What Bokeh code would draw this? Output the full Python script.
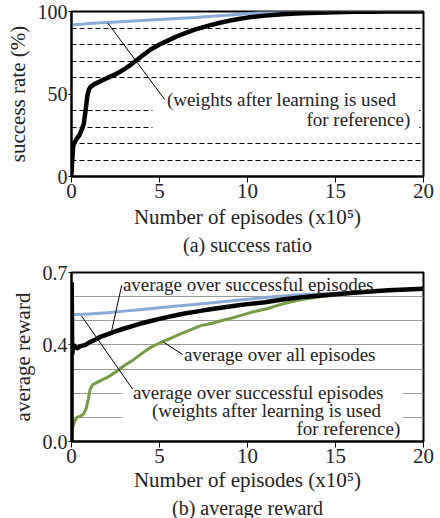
from bokeh.plotting import figure
from bokeh.layouts import column
from bokeh.models import FixedTicker, Label, PrintfTickFormatter
from bokeh.embed import file_html
from bokeh.resources import INLINE

# ---------------- data: (a) success ratio ----------------
succ_x = [0, 0.03, 0.1, 0.2, 0.3, 0.45, 0.6, 0.7, 0.8, 0.9, 1.0, 1.1, 1.3, 1.6, 2.0, 2.3,
          2.6, 3.0, 3.4, 3.7, 4.0, 4.5, 5.0, 5.5, 6.0, 6.5, 7.0, 7.5, 8.0, 8.5, 9.0, 9.5,
          10.0, 10.5, 11.0, 12.0, 13.0, 14.0, 15.0, 16.0, 17.0, 18.0, 19.0, 20.0]
succ_learn = [0, 8, 19, 21, 23, 25, 29, 32, 40, 49, 53, 54.5, 56, 57.5, 59.5, 61,
              62.5, 65, 68, 70.5, 73, 77, 80, 82.5, 85, 87, 89, 90.5, 92, 93.3, 94.5, 95.5,
              96.3, 97, 97.5, 98.3, 98.9, 99.3, 99.6, 99.8, 99.9, 100, 100, 100]
ref_x = [0, 0.5, 1, 2, 3, 4, 5, 6, 7, 8, 9, 10, 10.5, 11, 11.5, 12, 13, 14, 16, 18, 20]
succ_ref = [91.8, 92.2, 92.7, 93.4, 94, 94.6, 95.2, 95.8, 96.4, 97.1, 97.9, 98.7, 99.2, 99.6,
            99.8, 100, 100, 100, 100, 100, 100]

# ---------------- data: (b) average reward ----------------
rew_x = [0, 0.01, 0.04, 0.1, 0.3, 0.5, 0.8, 1.0, 1.3, 1.6, 2.0, 2.5, 3.0, 3.5, 4.0, 4.5, 5.0,
         5.5, 6.0, 6.5, 7.0, 7.5, 8.0, 8.5, 9.0, 9.5, 10, 11, 12, 13, 14, 15, 16, 17, 18, 19, 20]
rew_success = [0.0, 0.66, 0.36, 0.40, 0.385, 0.395, 0.40, 0.41, 0.42, 0.432, 0.443, 0.456, 0.468,
               0.479, 0.49, 0.499, 0.508, 0.516, 0.524, 0.531, 0.537, 0.543, 0.549, 0.554,
               0.559, 0.564, 0.569, 0.577, 0.588, 0.597, 0.604, 0.61, 0.616, 0.621, 0.626,
               0.63, 0.633]
all_x = [0, 0.05, 0.13, 0.3, 0.5, 0.7, 0.85, 0.95, 1.05, 1.2, 1.46, 1.8, 2.03, 2.3, 2.6, 3.0,
         3.55, 4.0, 4.5, 5.06, 5.4, 6.0, 6.4, 7.0, 7.35, 8.0, 8.5, 9.2, 10.2, 11.1, 12.0, 13.0,
         14.0, 15.0, 16.0, 17.0, 18.0, 19.0, 20.0]
rew_all = [0.0, 0.05, 0.075, 0.10, 0.105, 0.115, 0.14, 0.175, 0.215, 0.235, 0.245, 0.258, 0.265,
           0.278, 0.292, 0.315, 0.34, 0.365, 0.39, 0.41, 0.42, 0.44, 0.452, 0.47, 0.48,
           0.49, 0.50, 0.513, 0.535, 0.55, 0.57, 0.587, 0.598, 0.607, 0.614, 0.621, 0.626,
           0.63, 0.633]
rref_x = [0, 1, 2, 3, 4, 5, 6, 7, 8, 9, 10, 11, 12, 13, 14, 15, 16, 17, 18, 19, 20]
rew_ref = [0.525, 0.528, 0.533, 0.54, 0.547, 0.554, 0.561, 0.567, 0.575, 0.582, 0.589, 0.596,
           0.603, 0.608, 0.611, 0.613, 0.616, 0.62, 0.624, 0.628, 0.632]

x_ticks = [0, 5, 10, 15, 20]
succ_ticks = [0, 50, 100]
succ_grid = [10, 20, 30, 40, 60, 70, 80, 90]
rew_ticks = [0.0, 0.4, 0.7]
rew_grid = [0.1, 0.2, 0.3, 0.4, 0.5, 0.6]

FONT = "Liberation Serif"
BLUE = "#88abd5"
GREEN = "#779a45"


def style(p, ylabel, yticks, xlabel_standoff, ylabel_standoff):
    p.outline_line_color = "black"
    p.outline_line_width = 2
    p.xaxis.ticker = FixedTicker(ticks=x_ticks)
    p.yaxis.ticker = FixedTicker(ticks=yticks)
    p.xaxis.minor_tick_line_color = None
    p.yaxis.minor_tick_line_color = None
    for ax in (p.xaxis, p.yaxis):
        ax.axis_line_color = "black"
        ax.axis_line_width = 2
        ax.major_label_text_font = FONT
        ax.major_label_text_font_size = "21px"
        ax.major_label_text_color = "#222222"
        ax.axis_label_text_font = FONT
        ax.axis_label_text_font_size = "21px"
        ax.axis_label_text_font_style = "normal"
        ax.axis_label_text_color = "#222222"
        ax.major_tick_line_color = "black"
        ax.major_tick_in = 0
    p.yaxis.major_label_text_font_size = "20px"
    p.xaxis.major_tick_out = 6
    p.xaxis.major_label_standoff = 1
    p.xaxis.axis_label_standoff = xlabel_standoff
    p.yaxis.major_tick_out = 3
    p.yaxis.major_label_standoff = 1
    p.yaxis.axis_label_standoff = ylabel_standoff
    p.xaxis.axis_label = "Number of episodes (x10\u2075)"
    p.yaxis.axis_label = ylabel
    p.xgrid.grid_line_color = None
    p.title.text_font = FONT
    p.title.text_font_size = "20px"
    p.title.text_font_style = "normal"
    p.title.text_color = "#222222"
    p.title.align = "center"
    p.title.standoff = 0
    p.title.offset = 0


def label(p, x, y, text, align="left"):
    p.add_layout(Label(x=x, y=y, text=text, text_font=FONT, text_font_size="19px",
                       text_baseline="middle", text_align=align, text_color="#222222"))


# ---------------- figure (a) ----------------
p1 = figure(width=440, height=259, x_range=(0, 20), y_range=(0, 100),
            output_backend="svg", toolbar_location=None,
            title="(a) success ratio", title_location="below",
            min_border_left=71, min_border_right=17, min_border_top=11, min_border_bottom=83)
style(p1, "success rate (%)", succ_ticks, 4, 5)
p1.ygrid.ticker = FixedTicker(ticks=succ_grid)
p1.ygrid.grid_line_color = "black"
p1.ygrid.grid_line_dash = "5 3"
p1.ygrid.grid_line_width = 1

p1.quad(left=[4.6], right=[19.75], bottom=[25], top=[55.5], fill_color="white", line_color=None)
p1.line(ref_x, succ_ref, line_color=BLUE, line_width=3)
p1.line(succ_x, succ_learn, line_color="black", line_width=4.5)
p1.segment(x0=[2.07], y0=[92.9], x1=[5.3], y1=[46.6], line_color="black", line_width=1)
label(p1, 5.42, 46.4, "(weights after learning is used")
label(p1, 19.25, 34.6, "for reference)", align="right")

# ---------------- figure (b) ----------------
p2 = figure(width=440, height=259, x_range=(0, 20), y_range=(0, 0.7),
            output_backend="svg", toolbar_location=None,
            title="(b) average reward", title_location="below",
            min_border_left=71, min_border_right=17, min_border_top=13, min_border_bottom=75)
style(p2, "average reward", rew_ticks, 2, 5)
p2.yaxis.formatter = PrintfTickFormatter(format="%.1f")
p2.ygrid.ticker = FixedTicker(ticks=rew_grid)
p2.ygrid.grid_line_color = "#9a9a9a"
p2.ygrid.grid_line_width = 1

p2.quad(left=[2.9], right=[18.85], bottom=[0.03], top=[0.245], fill_color="white", line_color=None)
p2.line(all_x, rew_all, line_color=GREEN, line_width=3)
p2.line(rref_x, rew_ref, line_color=BLUE, line_width=3)
p2.line(rew_x, rew_success, line_color="black", line_width=4.5)
p2.segment(x0=[2.85, 6.32, 3.47], y0=[0.646, 0.36, 0.217],
           x1=[2.28, 5.21, 0.57], y1=[0.458, 0.412, 0.52], line_color="black", line_width=1)
label(p2, 2.92, 0.652, "average over successful episodes")
label(p2, 6.39, 0.360, "average over all episodes")
label(p2, 3.49, 0.201, "average over successful episodes")
label(p2, 4.57, 0.128, "(weights after learning is used")
label(p2, 18.68, 0.054, "for reference)", align="right")

layout = column(p1, p2)
open("out.html", "w").write(file_html(layout, INLINE))
